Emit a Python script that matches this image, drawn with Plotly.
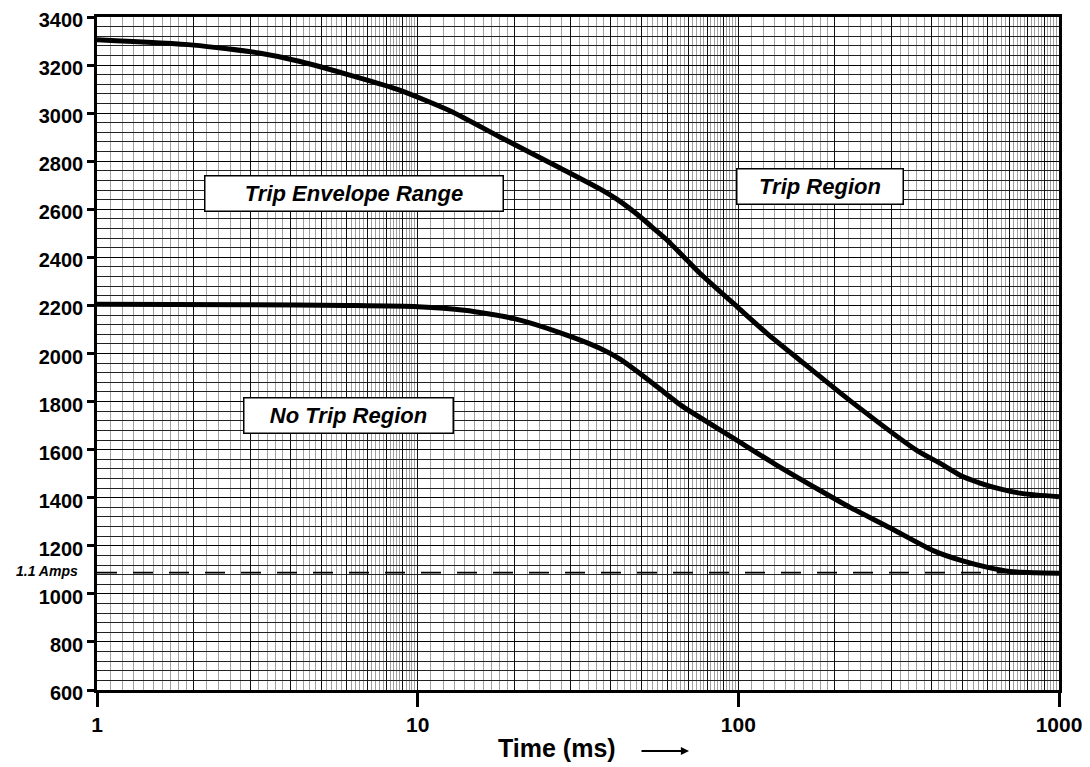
import plotly.graph_objects as go

# ---------------- data ----------------
upper_time_ms = [1, 2, 3.2, 4.3, 8.6, 12.6, 18.1, 27.8, 37, 42, 49.3, 55, 60, 69, 76,
                 100, 123, 156, 223, 361, 430, 501, 570, 654, 772, 1000]
upper_current = [3305, 3283, 3250, 3215, 3100, 3010, 2900, 2772, 2685, 2640, 2570, 2515, 2471, 2390, 2333,
                 2190, 2083, 1971, 1804, 1596, 1540, 1488, 1460, 1437, 1417, 1404]

lower_time_ms = [1, 3, 6, 10, 14, 20, 28, 37, 43, 49, 57, 67, 96, 130, 180, 223, 297, 405, 501,
                 600, 703, 850, 1000]
lower_current = [2205, 2203, 2200, 2195, 2180, 2145, 2085, 2022, 1975, 1920, 1852, 1780, 1650, 1540,
                 1430, 1360, 1275, 1180, 1137, 1110, 1093, 1088, 1086]

amps_line_time = [1, 1000]
amps_line_value = 1088
amps_label = "1.1 Amps"

x_tick_vals = [1, 10, 100, 1000]
x_tick_text = ["1", "10", "100", "1000"]
y_tick_vals = list(range(600, 3401, 200))
y_range = [600, 3400]
x_title = "Time (ms)"

label_texts = ["Trip Envelope Range", "Trip Region", "No Trip Region"]

# ---------------- grid helpers (log paper) ----------------
decades = [1, 10, 100]
major_grid = [d * k for d in decades for k in range(1, 10)] + [1000]
fine_steps = ([round(1 + 0.1 * i, 2) for i in range(1, 10)] +
              [round(2 + 0.2 * i, 2) for i in range(1, 40)
               if 0.01 < (2 + 0.2 * i) % 1 < 0.99])
fine_grid = [d * s for d in decades for s in fine_steps]

FONT = "Liberation Sans, Arial, sans-serif"

# the page body adds an 8px offset; compensate in the margins
OFF = 8
PLOT_L, PLOT_R, PLOT_T, PLOT_B = 97, 1059, 17, 690   # on-screen plot box
W, H = 1090, 767

fig = go.Figure()

fig.add_trace(go.Scatter(
    x=amps_line_time, y=[amps_line_value] * len(amps_line_time),
    mode="lines", line=dict(color="black", width=1.8, dash="20px,16px"),
    hoverinfo="skip", showlegend=False))

fig.add_trace(go.Scatter(
    x=upper_time_ms, y=upper_current, mode="lines",
    line=dict(color="black", width=5, shape="spline", smoothing=0.6),
    showlegend=False))

fig.add_trace(go.Scatter(
    x=lower_time_ms, y=lower_current, mode="lines",
    line=dict(color="black", width=5, shape="spline", smoothing=0.6),
    showlegend=False))

# invisible trace so the overlay axis (decade ticks/labels) is drawn
fig.add_trace(go.Scatter(
    x=[x_tick_vals[0], x_tick_vals[-1]], y=[y_range[0], y_range[0]],
    xaxis="x2", mode="lines", line=dict(width=0, color="rgba(0,0,0,0)"),
    hoverinfo="skip", showlegend=False))

fig.update_layout(
    width=W, height=H,
    margin=dict(l=PLOT_L - OFF, r=W - (PLOT_R - OFF), t=PLOT_T - OFF, b=H - (PLOT_B - OFF),
                pad=0, autoexpand=False),
    paper_bgcolor="white", plot_bgcolor="white",
    font=dict(family=FONT, color="black"),
    xaxis=dict(
        type="log", range=[0, 3], automargin=False,
        tickmode="array", tickvals=major_grid,
        showticklabels=False, ticks="",
        showgrid=True, gridcolor="#111111", gridwidth=1.2,
        showline=True, linecolor="black", linewidth=2.5, mirror=True,
        zeroline=False,
        minor=dict(tickmode="array", tickvals=fine_grid, showgrid=True,
                   gridcolor="#a0a0a0", gridwidth=1, ticks=""),
    ),
    xaxis2=dict(
        type="log", range=[0, 3], overlaying="x", anchor="y", side="bottom",
        automargin=False, ticklabeloverflow="allow",
        tickmode="array", tickvals=x_tick_vals, ticktext=x_tick_text,
        ticks="outside", ticklen=16, tickwidth=2.5, tickcolor="black",
        showgrid=False, showline=False, zeroline=False,
        tickfont=dict(family=FONT, size=21, color="black", weight="bold"),
    ),
    yaxis=dict(
        range=y_range, automargin=False, ticklabeloverflow="allow",
        ticklabelshift=3,
        tickmode="array", tickvals=y_tick_vals,
        ticks="outside", ticklen=7, tickwidth=2.5, tickcolor="black",
        tickfont=dict(family=FONT, size=20, color="black", weight="bold"),
        showgrid=True, gridcolor="black", gridwidth=1.4,
        showline=True, linecolor="black", linewidth=2.5, mirror=True,
        zeroline=False,
        minor=dict(dtick=40, tick0=600, showgrid=True, gridcolor="#222222",
                   gridwidth=1, ticks=""),
    ),
)

plot_w = PLOT_R - PLOT_L
plot_h = PLOT_B - PLOT_T


def px(x):
    return (x - PLOT_L) / plot_w


def py(y):
    return 1 - (y - PLOT_T) / plot_h


box_style = dict(showarrow=False, bgcolor="white", bordercolor="black",
                 borderwidth=1.5, borderpad=1, xref="paper", yref="paper",
                 xanchor="center", yanchor="middle",
                 font=dict(family=FONT, size=22, color="black"))

fig.add_annotation(text="<b><i>" + label_texts[0] + "</i></b>",
                   x=px(353.5), y=py(194), width=295, height=32, **box_style)
fig.add_annotation(text="<b><i>" + label_texts[1] + "</i></b>",
                   x=px(819.5), y=py(186), width=163, height=32, **box_style)
fig.add_annotation(text="<b><i>" + label_texts[2] + "</i></b>",
                   x=px(348), y=py(415), width=206, height=32, **box_style)

# 1.1 Amps label
fig.add_annotation(text="<b><i>" + amps_label + "</i></b>", xref="paper", yref="y",
                   x=0, y=amps_line_value, xanchor="right", yanchor="middle",
                   xshift=-17, yshift=2,
                   showarrow=False, font=dict(family=FONT, size=14, color="black"))

# axis title and arrow
fig.add_annotation(text="<b>" + x_title + "</b>", xref="paper", yref="paper",
                   x=px(557), y=py(748), xanchor="center", yanchor="middle",
                   showarrow=False,
                   font=dict(family=FONT, size=25, color="black"))
fig.add_annotation(text="", xref="paper", yref="paper",
                   x=px(689), y=py(751), ax=-49, ay=0,
                   showarrow=True, arrowhead=2, arrowsize=0.9, arrowwidth=1.8,
                   arrowcolor="black")

fig.write_html("out.html")
